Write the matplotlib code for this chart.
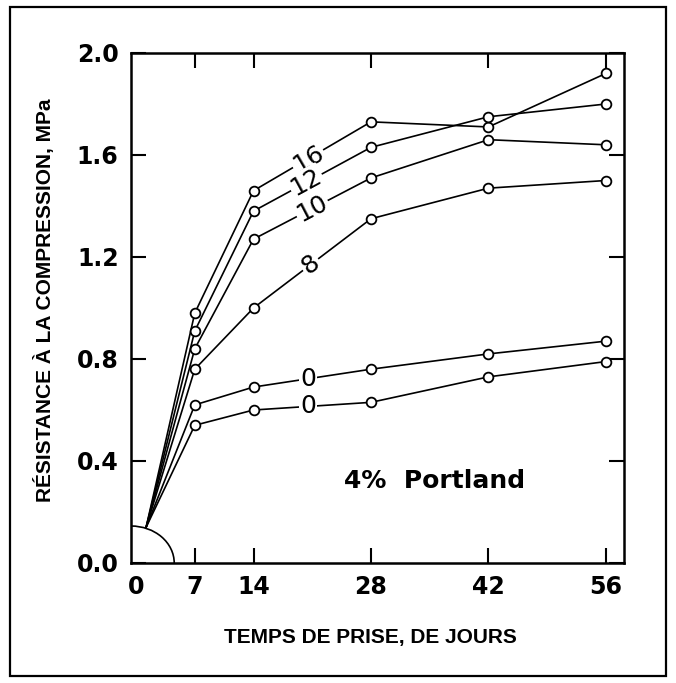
import numpy as np
import matplotlib
matplotlib.use("Agg")
import matplotlib.pyplot as plt
from matplotlib.patches import Arc, Rectangle

# jours de prise
days = [7, 14, 28, 42, 56]

# resistance a la compression (MPa) pour chaque courbe
s16 = [0.98, 1.46, 1.73, 1.71, 1.92]
s12 = [0.91, 1.38, 1.63, 1.75, 1.80]
s10 = [0.84, 1.27, 1.51, 1.66, 1.64]
s8 = [0.76, 1.00, 1.35, 1.47, 1.50]
s0a = [0.62, 0.69, 0.76, 0.82, 0.87]
s0b = [0.54, 0.60, 0.63, 0.73, 0.79]

series = [s16, s12, s10, s8, s0a, s0b]
curve_labels = ["16", "12", "10", "8", "0", "0"]
label_x = [20.5, 20.3, 21.0, 20.8, 20.5, 20.5]

# point de depart commun (sur l'arc)
start_x, start_y = 1.2, 0.14

xticks = [0, 7, 14, 28, 42, 56]
yticks = [0.0, 0.4, 0.8, 1.2, 1.6, 2.0]
x0 = -0.6

W, H = 676, 683
fig = plt.figure(figsize=(W / 100, H / 100), dpi=100)
ax = fig.add_axes([131 / W, 1 - 563 / H, (624 - 131) / W, (563 - 53) / H])
ax.set_xlim(x0, 58.15)
ax.set_ylim(0, 2.0)

for s in series:
    ax.plot([start_x] + days, [start_y] + s, color="black", lw=1.2, zorder=2)
    ax.plot(days, s, "o", ms=7, mfc="white", mec="black", mew=1.3, zorder=4)

fig.canvas.draw()
for s, lab, lx in zip(series, curve_labels, label_x):
    ly = np.interp(lx, days, s)
    p1 = ax.transData.transform((14, np.interp(14, days, s)))
    p2 = ax.transData.transform((28, np.interp(28, days, s)))
    ang = np.degrees(np.arctan2(p2[1] - p1[1], p2[0] - p1[0]))
    if lab == "0":
        ang = 0
    ax.text(lx, ly, lab, fontsize=18, rotation=ang, ha="center", va="center",
            rotation_mode="anchor", family="DejaVu Sans", fontweight="normal",
            bbox=dict(facecolor="white", edgecolor="none", pad=1.0), zorder=3)

ax.add_patch(Arc((x0, 0), 10.3, 0.29, theta1=0, theta2=90, color="black", lw=1.2))

ax.text(35.6, 0.322, "4%  Portland", fontsize=18, fontweight="bold",
        family="DejaVu Sans", ha="center", va="center")

ax.set_xticks(xticks)
ax.set_yticks(yticks)
ax.set_xticklabels([str(t) for t in xticks], fontsize=17, fontweight="bold", family="DejaVu Sans")
ax.set_yticklabels([f"{t:.1f}" for t in yticks], fontsize=17, fontweight="bold", family="DejaVu Sans")
ax.tick_params(direction="in", length=11, width=1.5, top=True, right=True)
ax.tick_params(axis="x", pad=9)
ax.tick_params(axis="y", pad=9)
t0 = ax.xaxis.get_major_ticks()[0]
t0.tick1line.set_visible(False)
t0.tick2line.set_visible(False)
for sp in ax.spines.values():
    sp.set_linewidth(1.8)

fig.text(370 / W, 1 - 637 / H, "TEMPS DE PRISE, DE JOURS", fontsize=15, fontweight="bold",
         family="Liberation Sans", ha="center", va="center")
fig.text(45 / W, 1 - 300 / H, "RÉSISTANCE À LA COMPRESSION, MPa", fontsize=15, fontweight="bold",
         family="Liberation Sans", ha="center", va="center", rotation=90)

fig.add_artist(Rectangle((10 / W, 1 - 676 / H), 656 / W, 669 / H, transform=fig.transFigure,
                         fill=False, lw=1.6, ec="black"))

fig.savefig("out.png", dpi=100)
